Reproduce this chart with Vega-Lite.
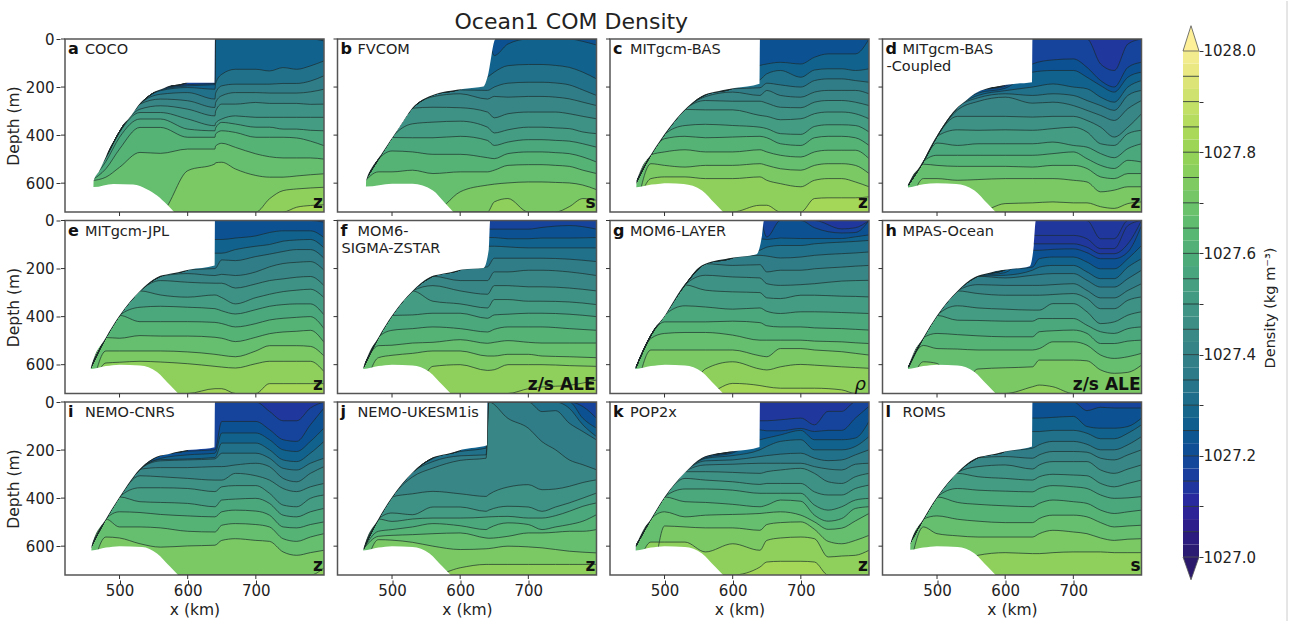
{"$schema":"https://vega.github.io/schema/vega-lite/v6.json","background":"white","padding":{"left":6,"top":0,"right":0,"bottom":0},"config":{"font":"DejaVu Sans","view":{"stroke":null},"axis":{"grid":false,"labelFontSize":15,"titleFontSize":15.5,"labelColor":"#222","titleColor":"#222","titleFontWeight":"normal","tickColor":"#333","tickSize":4,"domain":false}},"spacing":38,"hconcat":[{"title":{"text":"Ocean1 COM Density","fontSize":22,"fontWeight":"normal","color":"#222","anchor":"middle","dx":-3,"dy":7,"offset":5},"data":{"values":[
{"p":"a","l":"a","n":"COCO","c":"z"},{"p":"b","l":"b","n":"FVCOM","c":"s"},{"p":"c","l":"c","n":"MITgcm-BAS","c":"z"},{"p":"d","l":"d","n":"MITgcm-BAS","n2":"-Coupled","c":"z"},{"p":"e","l":"e","n":"MITgcm-JPL","c":"z"},{"p":"f","l":"f","n":"MOM6-","n2":"SIGMA-ZSTAR","c":"z/s ALE"},{"p":"g","l":"g","n":"MOM6-LAYER","r":"ρ"},{"p":"h","l":"h","n":"MPAS-Ocean","c":"z/s ALE"},{"p":"i","l":"i","n":"NEMO-CNRS","c":"z"},{"p":"j","l":"j","n":"NEMO-UKESM1is","c":"z"},{"p":"k","l":"k","n":"POP2x","c":"z"},{"p":"l","l":"l","n":"ROMS","c":"s"},
{"p":"a","x":458,"i":590},
{"p":"a","x":480,"i":490,"65":575,"60":540,"55":510,"50":495},
{"p":"a","x":500,"i":385,"65":534,"60":458,"55":409,"50":389},
{"p":"a","x":530,"i":270,"65":472,"60":368,"55":333,"50":306,"45":292,"40":271},
{"p":"a","x":560,"i":208,"65":476,"60":368,"55":333,"50":306,"45":278,"40":250,"35":230,"30":215,"25":212,"20":210},
{"p":"a","x":600,"i":180,"70":548,"65":458,"60":409,"55":375,"50":333,"45":292,"40":257,"35":223,"30":202,"25":195,"20":190},
{"p":"a","x":640,"70":520,"65":458,"60":409,"55":382,"50":361,"45":320,"40":285,"35":250,"30":209,"25":190,"20":185},
{"p":"a","x":641,"70":515,"65":445,"60":395,"55":370,"50":350,"45":300,"40":265,"35":225,"30":185},
{"p":"a","x":650,"70":513,"65":434,"60":382,"55":347,"50":333,"45":271,"40":236,"35":195,"30":147},
{"p":"a","x":670,"70":541,"65":451,"60":389,"55":354,"50":320,"45":271,"40":223,"35":188,"30":126},
{"p":"a","x":700,"70":568,"65":478,"60":409,"55":367,"50":326,"45":264,"40":223,"35":188,"30":126},
{"p":"a","x":720,"75":665,"70":575,"65":490,"60":409,"55":367,"50":326,"45":268,"40":225,"35":188,"30":133},
{"p":"a","x":740,"75":631,"70":575,"65":495,"60":409,"55":375,"50":326,"45":268,"40":225,"35":185,"30":119},
{"p":"a","x":760,"80":700,"75":624,"70":570,"65":495,"60":412,"55":375,"50":326,"45":268,"40":225,"35":185,"30":126},
{"p":"a","x":780,"80":693,"75":620,"70":565,"65":495,"60":425,"55":380,"50":326,"45":272,"40":220,"35":175,"30":112},
{"p":"a","x":800,"80":690,"75":617,"70":561,"65":500,"60":444,"55":382,"50":326,"45":271,"40":209,"35":153,"30":91,"25":8},
{"p":"b","x":458,"i":600},
{"p":"b","x":480,"i":500,"65":553,"60":500},
{"p":"b","x":500,"i":410,"65":553,"60":466,"55":410},
{"p":"b","x":530,"i":288,"65":546,"60":470,"55":411,"50":353,"45":288},
{"p":"b","x":560,"i":233,"65":560,"60":480,"55":411,"50":346,"45":284,"40":240},
{"p":"b","x":600,"i":208,"70":636,"65":553,"60":480,"55":405,"50":342,"45":286,"40":228,"35":212},
{"p":"b","x":640,"70":608,"65":553,"60":494,"55":422,"50":367,"45":304,"40":250,"35":214,"30":159},
{"p":"b","x":650,"75":678,"70":604,"65":546,"60":498,"55":443,"50":391,"45":328,"40":239,"35":200,"30":138,"25":69},
{"p":"b","x":670,"75":664,"70":599,"65":526,"60":477,"55":429,"50":378,"45":311,"40":242,"35":184,"30":111,"25":21},
{"p":"b","x":700,"70":595,"65":523,"60":470,"55":419,"50":367,"45":304,"40":239,"35":180,"30":106},
{"p":"b","x":720,"70":595,"65":523,"60":470,"55":419,"50":367,"45":304,"40":239,"35":180,"30":106},
{"p":"b","x":740,"70":597,"65":526,"60":473,"55":422,"50":370,"45":304,"40":242,"35":183,"30":110},
{"p":"b","x":760,"75":698,"70":599,"65":530,"60":477,"55":425,"50":373,"45":311,"40":249,"35":191,"30":118},
{"p":"b","x":780,"75":664,"70":608,"65":546,"60":491,"55":436,"50":387,"45":322,"40":263,"35":212,"30":138,"25":10},
{"p":"b","x":800,"75":671,"70":627,"65":560,"60":512,"55":450,"50":394,"45":332,"40":277,"35":235,"30":166,"25":25},
{"p":"c","x":458,"i":600},
{"p":"c","x":480,"i":482,"75":581,"70":519},
{"p":"c","x":500,"i":397,"75":574,"70":526,"65":470,"60":415},
{"p":"c","x":530,"i":293,"75":574,"70":533,"65":461,"60":405,"55":360},
{"p":"c","x":560,"i":232,"75":581,"70":526,"65":470,"60":411,"55":355,"50":295,"45":256,"40":240},
{"p":"c","x":600,"i":205,"75":581,"70":526,"65":470,"60":408,"55":360,"50":295,"45":259,"40":221,"35":207},
{"p":"c","x":640,"80":692,"75":574,"70":519,"65":461,"60":405,"55":367,"50":318,"45":259,"40":235,"35":203,"30":170,"25":110},
{"p":"c","x":650,"80":692,"75":588,"70":526,"65":470,"60":411,"55":373,"50":322,"45":267,"40":214,"35":184,"30":145,"25":104},
{"p":"c","x":670,"75":602,"70":540,"65":484,"60":436,"55":394,"50":336,"45":284,"40":235,"35":191,"30":131,"25":97},
{"p":"c","x":700,"75":615,"70":546,"65":491,"60":443,"55":397,"50":332,"45":286,"40":242,"35":200,"30":159,"25":104},
{"p":"c","x":720,"80":664,"75":588,"70":526,"65":470,"60":411,"55":364,"50":311,"45":263,"40":221,"35":173,"30":129,"25":76},
{"p":"c","x":740,"80":661,"75":581,"70":519,"65":463,"60":405,"55":357,"50":304,"45":256,"40":214,"35":166,"30":124,"25":62},
{"p":"c","x":760,"80":661,"75":581,"70":519,"65":463,"60":405,"55":357,"50":304,"45":256,"40":214,"35":166,"30":124,"25":62},
{"p":"c","x":780,"80":661,"75":595,"70":526,"65":463,"60":411,"55":360,"50":311,"45":263,"40":214,"35":173,"30":131,"25":62},
{"p":"c","x":800,"80":657,"75":615,"70":560,"65":498,"60":443,"55":387,"50":332,"45":277,"40":228,"35":180,"30":124},
{"p":"d","x":458,"i":608},
{"p":"d","x":480,"i":510,"70":581,"65":521},
{"p":"d","x":500,"i":405,"70":581,"65":526,"60":484,"55":433},
{"p":"d","x":530,"i":285,"70":588,"65":530,"60":484,"55":443,"50":378,"45":322,"40":296},
{"p":"d","x":560,"i":216,"70":585,"65":530,"60":484,"55":436,"50":380,"45":322,"40":260,"35":245,"30":235,"25":225},
{"p":"d","x":600,"i":190,"75":685,"70":581,"65":530,"60":484,"55":436,"50":378,"45":322,"40":242,"35":228,"30":215,"25":205,"20":197},
{"p":"d","x":640,"75":682,"70":581,"65":533,"60":484,"55":436,"50":380,"45":325,"40":267,"35":235,"30":200,"25":138,"20":104},
{"p":"d","x":670,"75":678,"70":581,"65":526,"60":477,"55":429,"50":373,"45":322,"40":263,"35":228,"30":187,"25":131,"20":87},
{"p":"d","x":700,"75":682,"70":588,"65":526,"60":470,"55":443,"50":367,"45":322,"40":277,"35":235,"30":200,"25":131,"20":83},
{"p":"d","x":720,"75":682,"70":595,"65":539,"60":498,"55":450,"50":387,"45":339,"40":297,"35":256,"30":207,"25":159,"20":118},
{"p":"d","x":740,"75":698,"70":636,"65":574,"60":526,"55":477,"50":436,"45":367,"40":318,"35":277,"30":242,"25":194,"20":173,"15":104},
{"p":"d","x":760,"75":705,"70":629,"65":581,"60":539,"55":494,"50":443,"45":408,"40":339,"35":297,"30":263,"25":221,"20":200,"15":131},
{"p":"d","x":780,"75":685,"70":615,"65":560,"60":505,"55":456,"50":394,"45":367,"40":290,"35":235,"30":200,"25":159,"20":118,"15":21},
{"p":"d","x":800,"75":678,"70":615,"65":560,"60":512,"55":436,"50":380,"45":311,"40":256,"35":214,"30":173,"25":138,"20":97},
{"p":"e","x":458,"i":612},
{"p":"e","x":480,"i":487,"75":593,"70":543},
{"p":"e","x":500,"i":395,"75":590,"70":543,"65":490},
{"p":"e","x":530,"i":293,"75":586,"70":543,"65":479,"60":421,"55":361},
{"p":"e","x":560,"i":232,"75":589,"70":543,"65":481,"60":421,"55":357,"50":310,"45":250},
{"p":"e","x":600,"i":205,"75":596,"70":547,"65":481,"60":421,"55":361,"50":319,"45":257,"40":221},
{"p":"e","x":640,"80":700,"75":607,"70":557,"65":486,"60":424,"55":367,"50":310,"45":261,"40":229,"35":200,"30":136,"25":79},
{"p":"e","x":650,"80":700,"75":610,"70":561,"65":490,"60":429,"55":376,"50":321,"45":261,"40":224,"35":164,"30":136,"25":79},
{"p":"e","x":670,"75":614,"70":567,"65":504,"60":443,"55":389,"50":347,"45":281,"40":229,"35":167,"30":121,"25":73},
{"p":"e","x":700,"75":596,"70":543,"65":486,"60":429,"55":371,"50":321,"45":264,"40":214,"35":150,"30":107,"25":64},
{"p":"e","x":720,"80":679,"75":586,"70":521,"65":471,"60":414,"55":357,"50":307,"45":250,"40":193,"35":140,"30":100,"25":50},
{"p":"e","x":740,"80":679,"75":586,"70":521,"65":464,"60":407,"55":350,"50":296,"45":243,"40":179,"35":129,"30":86,"25":43},
{"p":"e","x":760,"80":679,"75":586,"70":521,"65":461,"60":403,"55":347,"50":290,"45":236,"40":174,"35":121,"30":81,"25":43},
{"p":"e","x":780,"80":679,"75":586,"70":524,"65":457,"60":400,"55":347,"50":286,"45":233,"40":171,"35":121,"30":79,"25":43},
{"p":"e","x":800,"80":679,"75":629,"70":564,"65":507,"60":450,"55":393,"50":321,"45":271,"40":207,"35":157,"30":114,"25":71,"20":7},
{"p":"f","x":458,"i":612},
{"p":"f","x":480,"i":487,"70":571,"65":521},
{"p":"f","x":500,"i":395,"70":561,"65":519,"60":457},
{"p":"f","x":530,"i":293,"70":553,"65":510,"60":450,"55":393},
{"p":"f","x":560,"i":232,"75":607,"70":543,"65":507,"60":443,"55":386,"50":336,"45":271},
{"p":"f","x":600,"i":205,"75":600,"70":543,"65":496,"60":450,"55":386,"50":347,"45":293,"40":250},
{"p":"f","x":640,"75":624,"70":564,"65":511,"60":464,"55":407,"50":364,"45":307,"40":250,"35":193,"30":107,"25":71,"20":36},
{"p":"f","x":650,"75":621,"70":564,"65":507,"60":453,"55":393,"50":329,"45":271,"40":214,"35":157,"30":107,"25":71,"20":36},
{"p":"f","x":670,"75":600,"70":557,"65":500,"60":443,"55":390,"50":329,"45":271,"40":214,"35":157,"30":110,"25":76,"20":36},
{"p":"f","x":700,"80":700,"75":600,"70":557,"65":507,"60":443,"55":386,"50":336,"45":276,"40":207,"35":157,"30":114,"25":76,"20":36},
{"p":"f","x":720,"80":693,"75":600,"70":564,"65":510,"60":443,"55":386,"50":336,"45":276,"40":207,"35":157,"30":114,"25":73,"20":29},
{"p":"f","x":760,"80":686,"75":604,"70":567,"65":510,"60":450,"55":390,"50":339,"45":281,"40":214,"35":161,"30":114,"25":73,"20":21},
{"p":"f","x":800,"80":664,"75":607,"70":571,"65":510,"60":457,"55":400,"50":350,"45":293,"40":229,"35":171,"30":114,"25":71,"20":36},
{"p":"g","x":458,"i":612},
{"p":"g","x":480,"i":478,"70":539,"65":491},
{"p":"g","x":500,"i":395,"70":539,"65":470,"60":422},
{"p":"g","x":530,"i":268,"70":539,"65":466,"60":422,"55":355},
{"p":"g","x":560,"i":180,"75":618,"70":539,"65":466,"60":422,"55":360,"50":290,"45":228},
{"p":"g","x":600,"i":155,"80":678,"75":588,"70":539,"65":477,"60":419,"55":369,"50":297,"45":235,"40":187},
{"p":"g","x":640,"80":687,"75":618,"70":563,"65":498,"60":425,"55":364,"50":300,"45":239,"40":184,"35":145,"30":124,"25":76},
{"p":"g","x":650,"80":692,"75":622,"70":567,"65":498,"60":438,"55":378,"50":322,"45":263,"40":214,"35":148,"30":111,"25":79,"20":69},
{"p":"g","x":670,"80":698,"75":609,"70":533,"65":498,"60":443,"55":387,"50":325,"45":270,"40":207,"35":156,"30":104,"25":73},
{"p":"g","x":700,"80":698,"75":599,"70":533,"65":498,"60":443,"55":380,"50":311,"45":267,"40":207,"35":152,"30":104,"25":75},
{"p":"g","x":720,"80":698,"75":602,"70":539,"65":502,"60":447,"55":380,"50":311,"45":263,"40":201,"35":145,"30":97,"25":75,"20":30},
{"p":"g","x":760,"80":705,"75":609,"70":546,"65":505,"60":450,"55":383,"50":315,"45":252,"40":194,"35":138,"30":90,"25":75,"20":52,"15":35},
{"p":"g","x":780,"75":612,"70":553,"65":509,"60":453,"55":385,"50":316,"45":250,"40":190,"35":135,"30":87,"25":68,"20":50,"15":30},
{"p":"g","x":800,"75":615,"70":560,"65":512,"60":456,"55":387,"50":318,"45":249,"40":187,"35":131,"30":83,"25":60},
{"p":"h","x":458,"i":610},
{"p":"h","x":480,"i":487,"70":588,"65":520,"60":488},
{"p":"h","x":500,"i":395,"70":595,"65":533,"60":470},
{"p":"h","x":530,"i":293,"65":535,"60":475,"55":415,"50":355},
{"p":"h","x":560,"i":232,"70":618,"65":539,"60":480,"55":416,"50":364,"45":304,"40":267},
{"p":"h","x":600,"i":205,"70":613,"65":539,"60":484,"55":419,"50":369,"45":311,"40":270,"35":239,"30":228,"20":217},
{"p":"h","x":640,"75":692,"70":609,"65":539,"60":484,"55":419,"50":373,"45":311,"40":270,"35":228,"30":207,"25":194,"20":124,"15":97,"10":62},
{"p":"h","x":650,"75":685,"70":581,"65":533,"60":463,"55":408,"50":373,"45":311,"40":270,"35":225,"30":194,"25":159,"20":124,"15":97,"10":62},
{"p":"h","x":670,"75":692,"70":581,"65":505,"60":459,"55":408,"50":346,"45":308,"40":267,"35":221,"30":187,"25":152,"20":120,"15":97,"10":62},
{"p":"h","x":700,"70":581,"65":505,"60":456,"55":408,"50":346,"45":304,"40":263,"35":221,"30":187,"25":152,"20":118,"15":97,"10":62},
{"p":"h","x":720,"70":584,"65":519,"60":470,"55":436,"50":380,"45":325,"40":291,"35":249,"30":214,"25":173,"20":134,"15":111,"10":76},
{"p":"h","x":740,"70":622,"65":560,"60":512,"55":463,"50":429,"45":367,"40":322,"35":277,"30":242,"25":201,"20":159,"15":138,"10":117,"07":76},
{"p":"h","x":760,"70":636,"65":574,"60":512,"55":470,"50":422,"45":367,"40":322,"35":277,"30":242,"25":201,"20":159,"15":138,"10":117,"07":76},
{"p":"h","x":780,"70":632,"65":567,"60":502,"55":450,"50":394,"45":332,"40":291,"35":242,"30":194,"25":159,"20":131,"15":97,"10":21},
{"p":"h","x":800,"70":602,"65":553,"60":498,"55":443,"50":380,"45":318,"40":263,"35":207,"30":159,"25":104,"20":21},
{"p":"i","x":458,"i":605},
{"p":"i","x":480,"i":487,"70":562},
{"p":"i","x":500,"i":395,"70":566,"65":520,"60":457},
{"p":"i","x":530,"i":280,"70":590,"65":520,"60":460,"55":415,"50":357,"45":307},
{"p":"i","x":560,"i":222,"70":604,"65":524,"60":468,"55":418,"50":357,"45":311,"40":273,"35":245,"30":240,"25":235},
{"p":"i","x":600,"i":200,"70":599,"65":538,"60":474,"55":422,"50":360,"45":318,"40":273,"35":241,"30":237,"25":220,"20":205},
{"p":"i","x":640,"70":596,"65":541,"60":478,"55":436,"50":373,"45":325,"40":269,"35":237,"30":231,"25":213,"20":199},
{"p":"i","x":650,"70":576,"65":513,"60":457,"55":408,"50":353,"45":325,"40":269,"35":213,"30":171,"25":129,"20":81},
{"p":"i","x":670,"70":569,"65":506,"60":450,"55":404,"50":348,"45":297,"40":262,"35":213,"30":171,"25":129,"20":81},
{"p":"i","x":700,"70":576,"65":510,"60":454,"55":401,"50":348,"45":307,"40":255,"35":213,"30":171,"25":129,"20":81},
{"p":"i","x":720,"70":580,"65":520,"60":471,"55":422,"50":380,"45":325,"40":269,"35":234,"30":199,"25":157,"20":115,"15":39},
{"p":"i","x":740,"70":624,"65":569,"60":520,"55":471,"50":429,"45":360,"40":318,"35":276,"30":241,"25":199,"20":157,"15":78},
{"p":"i","x":760,"70":638,"65":580,"60":524,"55":478,"50":436,"45":373,"40":332,"35":283,"30":248,"25":206,"20":164,"15":78},
{"p":"i","x":780,"70":627,"65":562,"60":510,"55":457,"50":401,"45":353,"40":297,"35":255,"30":213,"25":164,"20":95,"15":25},
{"p":"i","x":800,"75":690,"70":617,"65":548,"60":499,"55":443,"50":387,"45":339,"40":269,"35":234,"30":164,"25":108,"20":25},
{"p":"j","x":458,"i":612},
{"p":"j","x":480,"i":487,"70":573,"65":559,"60":538},
{"p":"j","x":500,"i":395,"70":575,"65":555,"60":531,"55":497,"50":462},
{"p":"j","x":530,"i":293,"70":584,"65":552,"60":520,"55":487,"50":469,"45":382,"40":312},
{"p":"j","x":560,"i":232,"70":600,"65":548,"60":506,"55":483,"50":437,"45":372,"40":275,"35":248,"30":235},
{"p":"j","x":600,"i":200,"75":690,"70":614,"65":545,"60":515,"55":483,"50":437,"45":382,"40":243,"35":224,"30":206},
{"p":"j","x":638,"75":676,"70":611,"65":566,"60":531,"55":479,"50":455,"45":393,"40":234,"35":220,"30":192},
{"p":"j","x":642,"75":676,"70":610,"65":567,"60":525,"55":478,"50":450,"45":385},
{"p":"j","x":670,"75":676,"70":600,"65":559,"60":503,"55":476,"50":434,"45":354,"40":68},
{"p":"j","x":700,"75":676,"70":603,"65":545,"60":510,"55":483,"50":437,"45":344,"40":109},
{"p":"j","x":720,"75":676,"70":607,"65":545,"60":531,"55":483,"50":455,"45":365,"40":165,"35":40},
{"p":"j","x":740,"75":676,"70":614,"65":542,"60":520,"55":473,"50":437,"45":362,"40":199,"35":36},
{"p":"j","x":760,"75":676,"70":621,"65":538,"60":510,"55":455,"50":420,"45":351,"40":241,"35":88,"30":26},
{"p":"j","x":780,"75":676,"70":625,"65":538,"60":496,"55":434,"50":400,"45":335,"40":261,"35":123,"30":95,"25":68,"20":19},
{"p":"j","x":800,"75":676,"70":628,"65":531,"60":469,"55":420,"50":379,"45":324,"40":282,"35":158,"30":144,"25":109,"20":68},
{"p":"k","x":458,"i":600},
{"p":"k","x":480,"i":487,"75":583},
{"p":"k","x":500,"i":395,"75":583,"70":516,"65":457},
{"p":"k","x":530,"i":290,"75":583,"70":520,"65":478,"60":415,"55":362,"50":318},
{"p":"k","x":560,"i":226,"75":624,"70":524,"65":471,"60":418,"55":362,"50":325,"45":290,"40":262,"35":245,"30":235,"25":232},
{"p":"k","x":600,"i":204,"75":590,"70":524,"65":468,"60":426,"55":367,"50":332,"45":293,"40":259,"35":241,"30":223,"25":212,"20":207},
{"p":"k","x":640,"80":687,"75":617,"70":534,"65":464,"60":436,"55":380,"50":343,"45":297,"40":255,"35":227,"30":199,"25":157,"20":116,"15":78},
{"p":"k","x":650,"80":666,"75":576,"70":510,"65":461,"60":429,"55":380,"50":339,"45":290,"40":255,"35":223,"30":185,"25":150,"20":120,"15":78},
{"p":"k","x":670,"80":663,"75":566,"70":502,"65":457,"60":408,"55":380,"50":339,"45":283,"40":255,"35":217,"30":164,"25":137,"20":120,"15":74},
{"p":"k","x":700,"80":663,"75":562,"70":499,"65":471,"60":413,"55":380,"50":339,"45":276,"40":255,"35":213,"30":157,"25":118,"20":110,"15":67},
{"p":"k","x":720,"80":666,"75":569,"70":530,"65":499,"60":471,"55":429,"50":374,"45":297,"40":269,"35":234,"30":199,"25":157,"20":123,"15":95},
{"p":"k","x":740,"75":645,"70":580,"65":530,"60":496,"55":450,"50":387,"45":332,"40":279,"35":244,"30":199,"25":157,"20":118,"15":39},
{"p":"k","x":760,"75":641,"70":590,"65":525,"60":485,"55":436,"50":387,"45":339,"40":283,"35":241,"30":199,"25":157,"20":118,"15":39},
{"p":"k","x":780,"75":638,"70":576,"65":495,"60":443,"55":408,"50":360,"45":311,"40":259,"35":220,"30":185,"25":150,"20":67},
{"p":"k","x":800,"75":617,"70":555,"65":464,"60":436,"55":401,"50":346,"45":297,"40":255,"35":199,"30":144,"25":81,"20":18},
{"p":"l","x":458,"i":600},
{"p":"l","x":480,"i":487,"70":520},
{"p":"l","x":500,"i":395,"70":548,"65":474},
{"p":"l","x":530,"i":293,"70":557,"65":488,"60":418,"55":360,"50":297},
{"p":"l","x":560,"i":232,"75":638,"70":562,"65":496,"60":426,"55":367,"50":311,"45":269},
{"p":"l","x":600,"i":205,"75":627,"70":562,"65":502,"60":432,"55":371,"50":318,"45":262,"40":227},
{"p":"l","x":640,"75":631,"70":562,"65":502,"60":436,"55":374,"50":325,"45":279,"40":234,"35":192,"30":123,"25":67},
{"p":"l","x":650,"75":631,"70":548,"65":485,"60":422,"55":360,"50":311,"45":262,"40":220,"35":178,"30":123,"25":67},
{"p":"l","x":670,"75":627,"70":534,"65":471,"60":408,"55":348,"50":301,"45":248,"40":206,"35":164,"30":118,"25":64},
{"p":"l","x":700,"75":624,"70":541,"65":471,"60":415,"55":353,"50":304,"45":248,"40":206,"35":164,"30":118,"25":60},
{"p":"l","x":720,"75":624,"70":548,"65":478,"60":422,"55":360,"50":307,"45":248,"40":209,"35":176,"30":130,"25":102,"20":36},
{"p":"l","x":740,"75":624,"70":566,"65":502,"60":450,"55":387,"50":339,"45":283,"40":234,"35":199,"30":153,"25":109,"20":22},
{"p":"l","x":760,"75":627,"70":576,"65":520,"60":464,"55":401,"50":353,"45":297,"40":241,"35":199,"30":153,"25":109,"20":25},
{"p":"l","x":780,"75":627,"70":571,"65":516,"60":457,"55":399,"50":339,"45":279,"40":220,"35":178,"30":130,"25":102,"20":25},
{"p":"l","x":800,"75":627,"70":569,"65":513,"60":450,"55":394,"50":325,"45":262,"40":199,"35":144,"30":95,"25":67,"20":25},
{"p":"a","x":420,"t":720,"b":616},{"p":"a","x":461,"t":720},{"p":"a","x":462,"t":590,"b":616},{"p":"a","x":470,"t":550},{"p":"a","x":480,"t":490},{"p":"a","x":491,"t":410,"b":603},{"p":"a","x":515,"t":326},{"p":"a","x":520,"b":606},{"p":"a","x":537,"t":243},{"p":"a","x":540,"b":625},{"p":"a","x":555,"b":651},{"p":"a","x":562,"t":208},{"p":"a","x":570,"b":690},{"p":"a","x":580,"b":720},{"p":"a","x":592,"t":182},{"p":"a","x":639.5,"t":182},{"p":"a","x":640,"t":0},{"p":"a","x":800,"t":0},
{"p":"b","x":420,"t":720,"b":614},{"p":"b","x":461,"t":720},{"p":"b","x":462,"t":590,"b":614},{"p":"b","x":485,"t":477},{"p":"b","x":500,"b":602},{"p":"b","x":511,"t":366},{"p":"b","x":530,"b":602},{"p":"b","x":533,"t":277},{"p":"b","x":558,"t":235},{"p":"b","x":560,"b":630},{"p":"b","x":577,"b":680},{"p":"b","x":590,"b":720},{"p":"b","x":607,"t":207},{"p":"b","x":634,"t":198},{"p":"b","x":640,"t":159},{"p":"b","x":652,"t":0},{"p":"b","x":800,"t":0},
{"p":"c","x":420,"t":720,"b":617},{"p":"c","x":458,"t":720},{"p":"c","x":459,"t":585,"b":617},{"p":"c","x":481,"t":477,"b":606},{"p":"c","x":506,"t":373,"b":600},{"p":"c","x":528,"t":299,"b":603},{"p":"c","x":555,"t":236,"b":630},{"p":"c","x":574,"t":220,"b":685},{"p":"c","x":586,"t":212,"b":720},{"p":"c","x":603,"t":204},{"p":"c","x":639.5,"t":186},{"p":"c","x":640,"t":0},{"p":"c","x":800,"t":0},
{"p":"d","x":420,"t":720,"b":618},{"p":"d","x":456,"t":720},{"p":"d","x":457,"t":608,"b":618},{"p":"d","x":475,"t":530},{"p":"d","x":480,"b":605},{"p":"d","x":490,"t":450},{"p":"d","x":500,"b":600},{"p":"d","x":528,"t":290,"b":603},{"p":"d","x":543,"t":255},{"p":"d","x":555,"t":228,"b":630},{"p":"d","x":572,"t":207},{"p":"d","x":574,"b":685},{"p":"d","x":586,"b":720},{"p":"d","x":612,"t":187},{"p":"d","x":639.5,"t":180},{"p":"d","x":640,"t":0},{"p":"d","x":800,"t":0},
{"p":"e","x":420,"t":720,"b":618},{"p":"e","x":457,"t":720},{"p":"e","x":458,"t":612,"b":618},{"p":"e","x":480,"t":487,"b":606},{"p":"e","x":500,"t":395,"b":600},{"p":"e","x":530,"t":293,"b":603},{"p":"e","x":555,"t":236,"b":630},{"p":"e","x":574,"t":222,"b":685},{"p":"e","x":586,"t":215,"b":720},{"p":"e","x":603,"t":204},{"p":"e","x":639.5,"t":187},{"p":"e","x":640,"t":0},{"p":"e","x":800,"t":0},
{"p":"f","x":420,"t":720,"b":618},{"p":"f","x":457,"t":720},{"p":"f","x":458,"t":612,"b":618},{"p":"f","x":480,"t":487,"b":606},{"p":"f","x":500,"t":395,"b":600},{"p":"f","x":530,"t":293,"b":603},{"p":"f","x":555,"t":236,"b":630},{"p":"f","x":574,"t":222,"b":685},{"p":"f","x":586,"t":215,"b":720},{"p":"f","x":603,"t":204},{"p":"f","x":634,"t":198},{"p":"f","x":642,"t":120},{"p":"f","x":644,"t":0},{"p":"f","x":800,"t":0},
{"p":"g","x":420,"t":720,"b":618},{"p":"g","x":456,"t":720},{"p":"g","x":457,"t":614,"b":618},{"p":"g","x":467,"t":531},{"p":"g","x":480,"b":606},{"p":"g","x":501,"t":393,"b":600},{"p":"g","x":525,"t":283},{"p":"g","x":530,"b":603},{"p":"g","x":555,"t":186,"b":630},{"p":"g","x":574,"b":685},{"p":"g","x":586,"b":720},{"p":"g","x":594,"t":157},{"p":"g","x":635,"t":140},{"p":"g","x":643,"t":62},{"p":"g","x":646,"t":0},{"p":"g","x":800,"t":0},
{"p":"h","x":420,"t":720,"b":618},{"p":"h","x":456,"t":720},{"p":"h","x":457,"t":610,"b":618},{"p":"h","x":480,"t":487,"b":606},{"p":"h","x":500,"t":395,"b":600},{"p":"h","x":530,"t":293,"b":603},{"p":"h","x":555,"t":236,"b":630},{"p":"h","x":574,"t":220,"b":685},{"p":"h","x":586,"t":210,"b":720},{"p":"h","x":603,"t":204},{"p":"h","x":636,"t":190},{"p":"h","x":642,"t":103},{"p":"h","x":645,"t":0},{"p":"h","x":800,"t":0},
{"p":"i","x":420,"t":720,"b":618},{"p":"i","x":458,"t":720},{"p":"i","x":459,"t":600,"b":618},{"p":"i","x":480,"t":487,"b":606},{"p":"i","x":500,"t":395,"b":600},{"p":"i","x":533,"t":269,"b":603},{"p":"i","x":555,"t":227,"b":630},{"p":"i","x":574,"t":215,"b":685},{"p":"i","x":586,"t":206,"b":720},{"p":"i","x":639.5,"t":188},{"p":"i","x":640,"t":0},{"p":"i","x":800,"t":0},
{"p":"j","x":420,"t":720,"b":618},{"p":"j","x":457,"t":720},{"p":"j","x":458,"t":612,"b":618},{"p":"j","x":480,"t":487,"b":606},{"p":"j","x":500,"t":395,"b":600},{"p":"j","x":530,"t":293,"b":603},{"p":"j","x":555,"t":236,"b":630},{"p":"j","x":574,"t":220,"b":685},{"p":"j","x":586,"t":212,"b":720},{"p":"j","x":603,"t":198},{"p":"j","x":639.5,"t":180},{"p":"j","x":640,"t":0},{"p":"j","x":800,"t":0},
{"p":"k","x":420,"t":720,"b":618},{"p":"k","x":457,"t":720},{"p":"k","x":458,"t":590,"b":618},{"p":"k","x":480,"t":487,"b":606},{"p":"k","x":500,"t":395,"b":600},{"p":"k","x":530,"t":293,"b":603},{"p":"k","x":555,"t":232,"b":630},{"p":"k","x":574,"t":215,"b":685},{"p":"k","x":586,"t":208,"b":720},{"p":"k","x":603,"t":204},{"p":"k","x":639.5,"t":187},{"p":"k","x":640,"t":0},{"p":"k","x":800,"t":0},
{"p":"l","x":420,"t":720,"b":615},{"p":"l","x":460,"t":720},{"p":"l","x":461,"t":590,"b":615},{"p":"l","x":480,"t":487,"b":606},{"p":"l","x":500,"t":395,"b":600},{"p":"l","x":530,"t":293,"b":603},{"p":"l","x":555,"t":236,"b":630},{"p":"l","x":574,"t":222,"b":685},{"p":"l","x":586,"t":215,"b":720},{"p":"l","x":603,"t":204},{"p":"l","x":639.5,"t":185},{"p":"l","x":640,"t":0},{"p":"l","x":800,"t":0}
]},"facet":{"field":"p","type":"nominal","header":{"title":null,"labelExpr":"''","labelFontSize":1,"labelPadding":0,"labelColor":"transparent"}},"columns":4,"spacing":{"row":1.5,"column":7.5},"spec":{"width":259,"height":173,"layer":[
{"transform":[{"filter":"isValid(datum.x)&&!isValid(datum.t)&&!isValid(datum.b)"},{"fold":["05","07","10","12","15","20","25","30","35","40","45","50","55","60","65","70","75","80"],"as":["K","V"]},{"calculate":"toNumber(datum.K)","as":"L"},{"calculate":"isValid(datum.V)?datum.V:(datum.L>=70?720:(isValid(datum.i)?datum.i:0))","as":"D"},{"calculate":"1027+(datum.L+2.5)/100","as":"M"}],"mark":{"type":"area","interpolate":"monotone","clip":true},"encoding":{"x":{"field":"x","type":"quantitative","scale":{"domain":[420,800]},"axis":{"values":[500,600,700],"title":"x (km)","labelPadding":-1}},"y":{"field":"D","type":"quantitative","stack":null,"scale":{"domain":[0,720],"reverse":true},"axis":{"values":[0,200,400,600],"title":"Depth (m)"}},"y2":{"datum":720},"detail":{"field":"K"},"color":{"field":"M","type":"quantitative","legend":null,"scale":{"domain":[1027,1027.05,1027.1,1027.15,1027.2,1027.25,1027.3,1027.35,1027.4,1027.45,1027.5,1027.55,1027.6,1027.65,1027.7,1027.75,1027.8,1027.85,1027.9,1027.95,1028],"range":["#2b1a6c","#2e1c85","#2c249c","#1f3a9e","#154a96","#135a8f","#1c6a8b","#2b7788","#368287","#3c8b85","#429784","#48a27f","#50ae78","#5cba72","#6fc46a","#85cd5f","#97d356","#b0db5b","#c8e06a","#e3e67c","#f8ee95"]}}}},
{"transform":[{"filter":"isValid(datum.x)&&!isValid(datum.t)&&!isValid(datum.b)"},{"fold":["07","10","12","15","20","25","30","35","40","45","50","55","60","65","70","75","80"],"as":["K","V"]},{"calculate":"toNumber(datum.K)","as":"L"},{"calculate":"isValid(datum.V)?datum.V:(datum.L>=70?720:(isValid(datum.i)?datum.i:0))","as":"D"}],"mark":{"type":"line","interpolate":"monotone","clip":true,"stroke":"#1c2a2a","strokeWidth":0.8,"opacity":0.85},"encoding":{"x":{"field":"x","type":"quantitative","scale":{"domain":[420,800]}},"y":{"field":"D","type":"quantitative","scale":{"domain":[0,720],"reverse":true}},"detail":{"field":"K"}}},
{"transform":[{"filter":"isValid(datum.b)"}],"mark":{"type":"area","interpolate":"monotone","fill":"white","clip":true},"encoding":{"x":{"field":"x","type":"quantitative","scale":{"domain":[420,800]}},"y":{"field":"b","type":"quantitative","stack":null,"scale":{"domain":[0,720],"reverse":true}},"y2":{"datum":720}}},
{"transform":[{"filter":"isValid(datum.t)"}],"mark":{"type":"area","interpolate":"monotone","fill":"white","clip":true},"encoding":{"x":{"field":"x","type":"quantitative","scale":{"domain":[420,800]}},"y":{"field":"t","type":"quantitative","stack":null,"scale":{"domain":[0,720],"reverse":true}},"y2":{"datum":0}}},
{"transform":[{"filter":"isValid(datum.n)"}],"mark":{"type":"rect","filled":false,"stroke":"#555","strokeWidth":1.5},"encoding":{"x":{"value":0},"x2":{"value":259},"y":{"value":0},"y2":{"value":173}}},
{"transform":[{"filter":"isValid(datum.n)"}],"mark":{"type":"rule","stroke":"#333"},"encoding":{"x":{"datum":500,"scale":{"domain":[420,800]}},"y":{"value":173},"y2":{"value":177}}},
{"transform":[{"filter":"isValid(datum.n)"}],"mark":{"type":"rule","stroke":"#333"},"encoding":{"x":{"datum":600,"scale":{"domain":[420,800]}},"y":{"value":173},"y2":{"value":177}}},
{"transform":[{"filter":"isValid(datum.n)"}],"mark":{"type":"rule","stroke":"#333"},"encoding":{"x":{"datum":700,"scale":{"domain":[420,800]}},"y":{"value":173},"y2":{"value":177}}},
{"transform":[{"filter":"isValid(datum.n)"}],"mark":{"type":"rule","stroke":"#333"},"encoding":{"y":{"datum":0,"scale":{"domain":[0,720],"reverse":true}},"x":{"value":-4},"x2":{"value":0}}},
{"transform":[{"filter":"isValid(datum.n)"}],"mark":{"type":"rule","stroke":"#333"},"encoding":{"y":{"datum":200,"scale":{"domain":[0,720],"reverse":true}},"x":{"value":-4},"x2":{"value":0}}},
{"transform":[{"filter":"isValid(datum.n)"}],"mark":{"type":"rule","stroke":"#333"},"encoding":{"y":{"datum":400,"scale":{"domain":[0,720],"reverse":true}},"x":{"value":-4},"x2":{"value":0}}},
{"transform":[{"filter":"isValid(datum.n)"}],"mark":{"type":"rule","stroke":"#333"},"encoding":{"y":{"datum":600,"scale":{"domain":[0,720],"reverse":true}},"x":{"value":-4},"x2":{"value":0}}},
{"transform":[{"filter":"isValid(datum.n)"}],"mark":{"type":"text","align":"left","baseline":"middle","fontSize":16,"fontWeight":"bold","color":"#111"},"encoding":{"text":{"field":"l"},"x":{"value":3},"y":{"value":10}}},
{"transform":[{"filter":"isValid(datum.n)"}],"mark":{"type":"text","align":"left","baseline":"middle","fontSize":14.5,"color":"#222"},"encoding":{"text":{"field":"n"},"x":{"value":20},"y":{"value":11}}},
{"transform":[{"filter":"isValid(datum.n2)"}],"mark":{"type":"text","align":"left","baseline":"middle","fontSize":14.5,"color":"#222"},"encoding":{"text":{"field":"n2"},"x":{"value":4},"y":{"value":28}}},
{"transform":[{"filter":"isValid(datum.c)"}],"mark":{"type":"text","align":"right","baseline":"middle","fontSize":17,"fontWeight":"bold","color":"#111"},"encoding":{"text":{"field":"c"},"x":{"value":258},"y":{"value":164}}},
{"transform":[{"filter":"isValid(datum.r)"}],"mark":{"type":"text","align":"right","baseline":"middle","fontSize":18,"fontStyle":"italic","color":"#111"},"encoding":{"text":{"field":"r"},"x":{"value":256},"y":{"value":164}}}
]}},
{"width":16,"height":537,"data":{"values":[
{"lo":1027,"hi":1027.025},{"lo":1027.025,"hi":1027.05},{"lo":1027.05,"hi":1027.075},{"lo":1027.075,"hi":1027.1},{"lo":1027.1,"hi":1027.125},{"lo":1027.125,"hi":1027.15},{"lo":1027.15,"hi":1027.175},{"lo":1027.175,"hi":1027.2},{"lo":1027.2,"hi":1027.225},{"lo":1027.225,"hi":1027.25},{"lo":1027.25,"hi":1027.275},{"lo":1027.275,"hi":1027.3},{"lo":1027.3,"hi":1027.325},{"lo":1027.325,"hi":1027.35},{"lo":1027.35,"hi":1027.375},{"lo":1027.375,"hi":1027.4},{"lo":1027.4,"hi":1027.425},{"lo":1027.425,"hi":1027.45},{"lo":1027.45,"hi":1027.475},{"lo":1027.475,"hi":1027.5},{"lo":1027.5,"hi":1027.525},{"lo":1027.525,"hi":1027.55},{"lo":1027.55,"hi":1027.575},{"lo":1027.575,"hi":1027.6},{"lo":1027.6,"hi":1027.625},{"lo":1027.625,"hi":1027.65},{"lo":1027.65,"hi":1027.675},{"lo":1027.675,"hi":1027.7},{"lo":1027.7,"hi":1027.725},{"lo":1027.725,"hi":1027.75},{"lo":1027.75,"hi":1027.775},{"lo":1027.775,"hi":1027.8},{"lo":1027.8,"hi":1027.825},{"lo":1027.825,"hi":1027.85},{"lo":1027.85,"hi":1027.875},{"lo":1027.875,"hi":1027.9},{"lo":1027.9,"hi":1027.925},{"lo":1027.925,"hi":1027.95},{"lo":1027.95,"hi":1027.975},{"lo":1027.975,"hi":1028},
{"kx":0,"ky":1028,"g":"u"},{"kx":0.5,"ky":1028.05,"g":"u"},{"kx":1,"ky":1028,"g":"u"},{"kx":0,"ky":1027,"g":"d"},{"kx":0.5,"ky":1026.955,"g":"d"},{"kx":1,"ky":1027,"g":"d"}
]},"layer":[
{"transform":[{"filter":"isValid(datum.lo)"},{"calculate":"datum.lo+0.0125","as":"m"}],"mark":{"type":"rect"},"encoding":{"x":{"datum":0,"scale":{"domain":[0,1]},"axis":null},"x2":{"datum":1},"y":{"field":"lo","type":"quantitative","scale":{"domain":[1026.9625,1028.0237]},"axis":{"orient":"right","values":[1027,1027.025,1027.05,1027.075,1027.1,1027.125,1027.15,1027.175,1027.2,1027.225,1027.25,1027.275,1027.3,1027.325,1027.35,1027.375,1027.4,1027.425,1027.45,1027.475,1027.5,1027.525,1027.55,1027.575,1027.6,1027.625,1027.65,1027.675,1027.7,1027.725,1027.75,1027.775,1027.8,1027.825,1027.85,1027.875,1027.9,1027.925,1027.95,1027.975,1028],"labelExpr":"round(datum.value*1000)%200==0?format(datum.value,'.1f'):''","labelOverlap":false,"labelFontSize":15,"labelPadding":0,"title":"Density (kg m⁻³)","titleAngle":270,"titleFontSize":14.5,"titlePadding":22}},"y2":{"field":"hi"},"color":{"field":"m","type":"quantitative","legend":null,"scale":{"domain":[1027,1027.05,1027.1,1027.15,1027.2,1027.25,1027.3,1027.35,1027.4,1027.45,1027.5,1027.55,1027.6,1027.65,1027.7,1027.75,1027.8,1027.85,1027.9,1027.95,1028],"range":["#2b1a6c","#2e1c85","#2c249c","#1f3a9e","#154a96","#135a8f","#1c6a8b","#2b7788","#368287","#3c8b85","#429784","#48a27f","#50ae78","#5cba72","#6fc46a","#85cd5f","#97d356","#b0db5b","#c8e06a","#e3e67c","#f8ee95"]}}}},
{"transform":[{"filter":"isValid(datum.lo)&&round(datum.lo*1000)%50==0&&datum.lo>1027"}],"mark":{"type":"rule","stroke":"#1c2a2a","strokeWidth":0.8},"encoding":{"x":{"datum":0,"scale":{"domain":[0,1]},"axis":null},"x2":{"datum":1},"y":{"field":"lo","type":"quantitative","scale":{"domain":[1026.9625,1028.0237]}}}},
{"transform":[{"filter":"datum.g=='u'"}],"mark":{"type":"area","fill":"#fdf099","stroke":"#555","strokeWidth":0.8},"encoding":{"x":{"field":"kx","type":"quantitative","scale":{"domain":[0,1]},"axis":null},"y":{"field":"ky","type":"quantitative","stack":null,"scale":{"domain":[1026.9625,1028.0237]}},"y2":{"datum":1028}}},
{"transform":[{"filter":"datum.g=='d'"}],"mark":{"type":"area","fill":"#2b1a6c","stroke":"#555","strokeWidth":0.8},"encoding":{"x":{"field":"kx","type":"quantitative","scale":{"domain":[0,1]},"axis":null},"y":{"field":"ky","type":"quantitative","stack":null,"scale":{"domain":[1026.9625,1028.0237]}},"y2":{"datum":1027}}},
{"transform":[{"filter":"datum.g=='u'&&datum.kx==0.5"}],"mark":{"type":"rule","stroke":"#ccc","strokeWidth":1},"encoding":{"x":{"value":104},"y":{"value":-38},"y2":{"value":583}}}
]}
]}
